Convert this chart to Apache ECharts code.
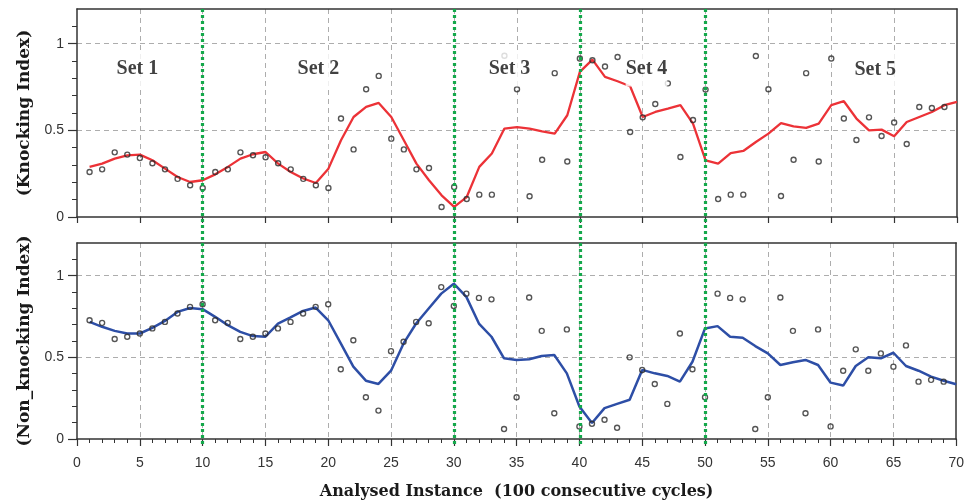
<!DOCTYPE html>
<html>
<head>
<meta charset="utf-8">
<script src="https://cdn.jsdelivr.net/npm/echarts@6/dist/echarts.min.js"></script>
<style>
  html, body { margin: 0; padding: 0; background: #fff; }
  #chart { width: 967px; height: 504px; }
</style>
</head>
<body>
<div id="chart"></div>
<script>
// Analysed instance numbers (100 consecutive cycles each)
const instances = [1,2,3,4,5,6,7,8,9,10,11,12,13,14,15,16,17,18,19,20,
  21,22,23,24,25,26,27,28,29,30,31,32,33,34,35,36,37,38,39,40,
  41,42,43,44,45,46,47,48,49,50,51,52,53,54,55,56,57,58,59,60,
  61,62,63,64,65,66,67,68,69,70];

// Per-instance knocking index (circles, instances 1-69)
const knockRaw = [0.26,0.275,0.373,0.36,0.34,0.31,0.275,0.22,0.183,0.167,
  0.26,0.275,0.373,0.356,0.345,0.31,0.275,0.22,0.183,0.167,
  0.568,0.39,0.737,0.814,0.452,0.39,0.275,0.283,0.058,0.173,
  0.104,0.129,0.129,0.93,0.737,0.12,0.33,0.83,0.32,0.914,
  0.904,0.868,0.923,0.49,0.575,0.652,0.771,0.346,0.56,0.735,
  0.104,0.129,0.129,0.929,0.737,0.121,0.33,0.83,0.32,0.914,
  0.568,0.444,0.575,0.467,0.545,0.421,0.635,0.629,0.635];

// Smoothed knocking index (red line, instances 1-70)
const knockSmooth = [0.289,0.308,0.337,0.356,0.36,0.327,0.279,0.231,0.202,0.212,
  0.246,0.289,0.337,0.362,0.375,0.308,0.26,0.222,0.196,0.279,
  0.443,0.577,0.635,0.658,0.577,0.443,0.308,0.212,0.125,0.058,
  0.115,0.289,0.366,0.51,0.519,0.51,0.494,0.481,0.587,0.837,
  0.908,0.808,0.783,0.754,0.577,0.606,0.625,0.645,0.539,0.327,
  0.308,0.369,0.381,0.433,0.481,0.542,0.523,0.514,0.539,0.645,
  0.668,0.568,0.5,0.504,0.466,0.548,0.577,0.606,0.645,0.664];

// Per-instance non-knocking index (circles, instances 1-69)
const nonKnockRaw = [0.727,0.711,0.612,0.626,0.646,0.677,0.717,0.768,0.809,0.825,
  0.727,0.711,0.612,0.626,0.646,0.677,0.717,0.768,0.809,0.825,
  0.427,0.605,0.256,0.174,0.538,0.595,0.717,0.709,0.93,0.815,
  0.89,0.864,0.855,0.061,0.256,0.866,0.662,0.158,0.671,0.077,
  0.093,0.118,0.069,0.5,0.423,0.337,0.215,0.646,0.427,0.256,
  0.89,0.864,0.855,0.061,0.256,0.866,0.662,0.158,0.671,0.077,
  0.418,0.549,0.418,0.524,0.443,0.573,0.351,0.362,0.351];

// Smoothed non-knocking index (blue line, instances 1-70)
const nonKnockSmooth = [0.717,0.687,0.662,0.646,0.646,0.68,0.723,0.778,0.802,0.795,
  0.748,0.697,0.656,0.63,0.626,0.707,0.744,0.784,0.805,0.727,
  0.585,0.443,0.357,0.337,0.418,0.585,0.707,0.799,0.89,0.951,
  0.87,0.707,0.626,0.494,0.484,0.488,0.508,0.514,0.402,0.199,
  0.098,0.189,0.215,0.24,0.423,0.402,0.386,0.351,0.473,0.677,
  0.691,0.626,0.62,0.569,0.524,0.453,0.47,0.484,0.453,0.345,
  0.327,0.447,0.5,0.494,0.528,0.447,0.418,0.382,0.357,0.335];

// Boundaries between data sets, and the set names
const setBoundaries = [10, 30, 40, 50];
const setNames = ['Set 1', 'Set 2', 'Set 3', 'Set 4', 'Set 5'];

// Axis ticks
const yMajorTicks = [0, 0.5, 1];
const yMinorTicks = [0.1, 0.2, 0.3, 0.4, 0.6, 0.7, 0.8, 0.9, 1.1];

const pairs = (vals) => vals.map((v, i) => [instances[i], v]);

const AXIS_COLOR = '#333';
const GRID_DASH = { color: '#adadad', type: [5, 4], width: 1 };
const TITLE_FONT = { fontFamily: 'DejaVu Serif', fontWeight: 'bold', fontSize: 17, color: '#1a1a1a' };

function xMain(gridIndex, withLabels) {
  return {
    type: 'value', gridIndex, min: 0, max: 70, interval: 5, position: 'bottom',
    axisLine: { onZero: false, lineStyle: { color: AXIS_COLOR, width: 1.5 } },
    axisTick: { show: true, length: withLabels ? 7 : 6, lineStyle: { color: AXIS_COLOR, width: 1.2 } },
    minorTick: { show: withLabels, splitNumber: 5, length: 4, lineStyle: { color: AXIS_COLOR, width: 1 } },
    axisLabel: { show: withLabels, margin: 17, fontFamily: 'Liberation Sans', fontSize: 14, color: '#333' },
    splitLine: { show: true, showMinLine: false, showMaxLine: false, lineStyle: GRID_DASH },
    name: withLabels ? 'Analysed Instance  (100 consecutive cycles)' : '',
    nameLocation: 'middle', nameGap: 45,
    nameTextStyle: Object.assign({}, TITLE_FONT, { fontSize: 16 })
  };
}
function xFrame(gridIndex) {
  return {
    type: 'value', gridIndex, min: 0, max: 70, position: 'top',
    axisLine: { onZero: false, lineStyle: { color: AXIS_COLOR, width: 1.5 } },
    axisTick: { show: false }, axisLabel: { show: false }, splitLine: { show: false }
  };
}
function yMain(gridIndex, title) {
  return {
    type: 'value', gridIndex, min: 0, max: 1.2, position: 'left',
    axisLine: { show: true, onZero: false, lineStyle: { color: AXIS_COLOR, width: 1.5 } },
    axisTick: { show: true, length: 9, customValues: yMajorTicks, lineStyle: { color: AXIS_COLOR, width: 1.2 } },
    axisLabel: { customValues: yMajorTicks, margin: 13, fontFamily: 'Liberation Sans', fontSize: 14, color: '#333' },
    splitLine: { show: true, showMinLine: false, lineStyle: GRID_DASH },
    name: title, nameLocation: 'middle', nameGap: 44, nameTextStyle: TITLE_FONT
  };
}
function yMinor(gridIndex) {
  return {
    type: 'value', gridIndex, min: 0, max: 1.2, position: 'left',
    axisLine: { show: false },
    axisTick: { show: true, length: 5, customValues: yMinorTicks, lineStyle: { color: AXIS_COLOR, width: 1 } },
    axisLabel: { show: false }, splitLine: { show: false }
  };
}
function yFrame(gridIndex) {
  return {
    type: 'value', gridIndex, min: 0, max: 1.2, position: 'right',
    axisLine: { show: true, onZero: false, lineStyle: { color: AXIS_COLOR, width: 1.5 } },
    axisTick: { show: false }, axisLabel: { show: false }, splitLine: { show: false }
  };
}

const circleStyle = { color: 'rgba(0,0,0,0)', borderColor: '#2a2a2a', borderWidth: 1.4 };

// Set labels sit above the curves in the knocking panel
const setAnchors = [[4.8, 0.857], [19.2, 0.857], [34.4, 0.857], [45.3, 0.857], [63.5, 0.847]];

const option = {
  animation: false,
  backgroundColor: '#fff',
  grid: [
    { left: 77, right: 10, top: 9, height: 208 },
    { left: 77, right: 10, top: 243, height: 196 },
    { left: 77, right: 10, top: 8, bottom: 60 }
  ],
  xAxis: [
    xMain(0, false), xFrame(0),
    xMain(1, true), xFrame(1),
    { type: 'value', gridIndex: 2, min: 0, max: 70, show: false }
  ],
  yAxis: [
    yMain(0, '(Knocking Index)'), yMinor(0), yFrame(0),
    yMain(1, '(Non_knocking Index)'), yMinor(1), yFrame(1),
    { type: 'value', gridIndex: 2, min: 0, max: 1, show: false }
  ],
  series: [
    {
      name: 'Knocking (smoothed)', type: 'line', xAxisIndex: 0, yAxisIndex: 0,
      data: pairs(knockSmooth), showSymbol: false, symbol: 'none',
      lineStyle: { color: '#ec3237', width: 2.3 }, z: 3
    },
    {
      name: 'Knocking', type: 'scatter', xAxisIndex: 0, yAxisIndex: 0,
      data: pairs(knockRaw), symbol: 'circle', symbolSize: 5, itemStyle: circleStyle, z: 4
    },
    {
      name: 'Non-knocking (smoothed)', type: 'line', xAxisIndex: 2, yAxisIndex: 3,
      data: pairs(nonKnockSmooth), showSymbol: false, symbol: 'none',
      lineStyle: { color: '#2d4ea6', width: 2.5 }, z: 3
    },
    {
      name: 'Non-knocking', type: 'scatter', xAxisIndex: 2, yAxisIndex: 3,
      data: pairs(nonKnockRaw), symbol: 'circle', symbolSize: 5, itemStyle: circleStyle, z: 4
    },
    {
      name: 'Set labels', type: 'scatter', xAxisIndex: 0, yAxisIndex: 0,
      data: setNames.map((n, i) => ({ name: n, value: setAnchors[i] })),
      symbolSize: 1, itemStyle: { color: 'rgba(0,0,0,0)' }, z: 6,
      label: {
        show: true, position: 'inside', formatter: (p) => p.name,
        fontFamily: 'Liberation Serif', fontWeight: 'bold', fontSize: 20, color: '#111',
        backgroundColor: '#fff', padding: [16, 0, 0, 0]
      }
    },
    {
      name: 'Set boundaries', type: 'line', xAxisIndex: 4, yAxisIndex: 6, data: [], z: 5,
      markLine: {
        silent: true, symbol: 'none', label: { show: false },
        lineStyle: { color: '#14a84b', type: [3, 3], width: 3.2 },
        data: setBoundaries.map((b) => ({ xAxis: b }))
      }
    }
  ]
};

const chart = echarts.init(document.getElementById('chart'), null, { renderer: 'canvas' });
chart.setOption(option);
</script>
</body>
</html>
